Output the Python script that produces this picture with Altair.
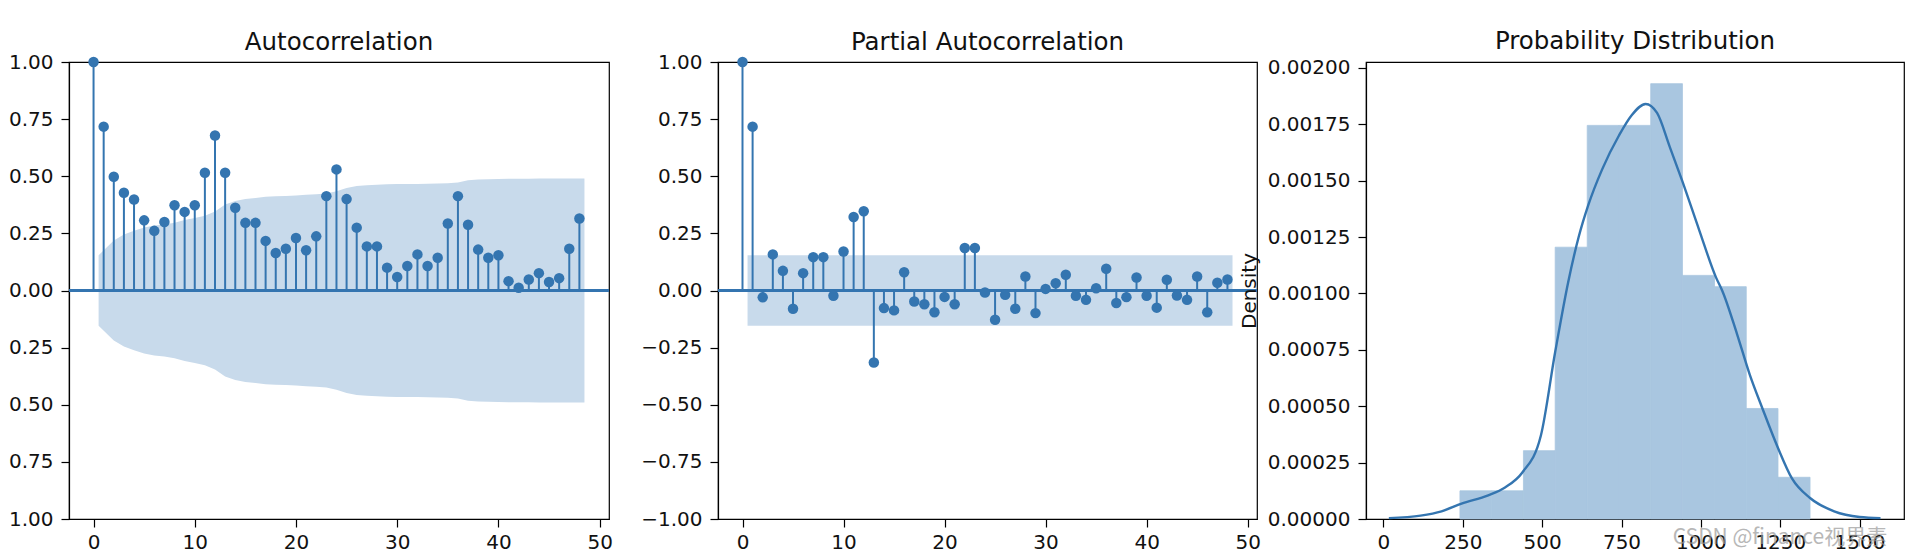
import altair as alt
import pandas as pd

# ---------------- data ----------------
acf_lags = list(range(49))
acf_vals = [1.0, 0.717, 0.498, 0.428, 0.398, 0.307, 0.261, 0.300, 0.373, 0.344,
            0.373, 0.515, 0.678, 0.515, 0.362, 0.296, 0.296, 0.217, 0.164, 0.183,
            0.230, 0.176, 0.237, 0.413, 0.530, 0.400, 0.275, 0.193, 0.193, 0.100,
            0.059, 0.107, 0.158, 0.107, 0.143, 0.293, 0.413, 0.288, 0.179, 0.143,
            0.154, 0.041, 0.012, 0.048, 0.076, 0.037, 0.054, 0.183, 0.315]

# confidence band half-width (lags 1..48); first/last points sit at 0.5 and 48.5
acf_band_x = [0.5] + list(range(2, 48)) + [48.5]
acf_band = [0.154, 0.219, 0.245, 0.262, 0.276, 0.284, 0.289, 0.297, 0.308, 0.317,
            0.327, 0.346, 0.376, 0.392, 0.400, 0.405, 0.410, 0.413, 0.414, 0.416,
            0.419, 0.421, 0.424, 0.434, 0.449, 0.457, 0.461, 0.463, 0.465, 0.466,
            0.466, 0.466, 0.467, 0.468, 0.469, 0.473, 0.482, 0.486, 0.487, 0.488,
            0.489, 0.489, 0.489, 0.490, 0.490, 0.490, 0.490, 0.490]

pacf_lags = list(range(49))
pacf_vals = [1.0, 0.717, -0.030, 0.158, 0.086, -0.080, 0.076, 0.146, 0.146, -0.023,
             0.171, 0.322, 0.347, -0.315, -0.077, -0.087, 0.080, -0.048, -0.060, -0.095,
             -0.028, -0.060, 0.186, 0.186, -0.009, -0.128, -0.019, -0.080, 0.061, -0.099,
             0.007, 0.032, 0.069, -0.023, -0.041, 0.010, 0.095, -0.055, -0.029, 0.057,
             -0.023, -0.075, 0.047, -0.022, -0.041, 0.061, -0.095, 0.034, 0.048]
pacf_band_x = [0.5, 48.5]
pacf_band = [0.154, 0.154]

hist_edges = [241, 341, 441, 541, 642, 742, 842, 942, 1043, 1143, 1243, 1344]
hist_density = [0.000125, 0.000125, 0.000303, 0.001205, 0.001745, 0.001745,
                0.00193, 0.00108, 0.00103, 0.00049, 0.000185]

kde_x = [17, 117, 183, 246, 330, 383, 437, 496, 541, 582, 615, 645, 689, 742, 782,
         826, 862, 902, 941, 995, 1048, 1068, 1114, 1154, 1194, 1243, 1287, 1344,
         1420, 1500, 1566]
kde_y = [0.000004, 0.000015, 0.000034, 0.000068, 0.000105, 0.000140, 0.000205, 0.00037,
         0.00074, 0.00105, 0.00125, 0.00139, 0.00155, 0.00170, 0.00179, 0.00184,
         0.00180, 0.00165, 0.00150, 0.00128, 0.00107, 0.00101, 0.00082, 0.00064,
         0.00049, 0.000315, 0.00018, 0.000093, 0.000034, 0.000009, 0.000004]

lag_ticks = [0, 10, 20, 30, 40, 50]
corr_ticks = [-1.0, -0.75, -0.5, -0.25, 0.0, 0.25, 0.5, 0.75, 1.0]
dist_x_ticks = [0, 250, 500, 750, 1000, 1250, 1500]
dist_y_ticks = [0, 0.00025, 0.0005, 0.00075, 0.001, 0.00125, 0.0015, 0.00175, 0.002]

# ---------------- styling ----------------
BLUE = "#3475b0"
BAND = "#c8daeb"
HIST = "#a9c6e0"
FONT = "DejaVu Sans"

def stem_panel(lags, vals, band_x, band_h, title, width):
    df = pd.DataFrame({"lag": lags, "v": vals})
    bdf = pd.DataFrame({"lag": band_x, "lo": [-h for h in band_h], "hi": band_h})
    xs = alt.Scale(domain=[-2.425, 50.925], nice=False, zero=False)
    ys = alt.Scale(domain=[-1, 1], nice=False)
    xax = alt.Axis(values=lag_ticks, format="d", title=None)
    yax = alt.Axis(values=corr_ticks, format=".2f", title=None)
    band = alt.Chart(bdf).mark_area(color=BAND, opacity=1).encode(
        x=alt.X("lag:Q", scale=xs, axis=xax),
        y=alt.Y("lo:Q", scale=ys, axis=yax),
        y2="hi:Q",
    )
    zero = alt.Chart(df).mark_rule(color=BLUE, strokeWidth=2).encode(y=alt.datum(0))
    stems = alt.Chart(df).mark_rule(color=BLUE, strokeWidth=2).encode(
        x=alt.X("lag:Q", scale=xs), y=alt.Y("v:Q", scale=ys), y2=alt.datum(0)
    )
    pts = alt.Chart(df).mark_circle(color=BLUE, size=110, opacity=1).encode(
        x=alt.X("lag:Q", scale=xs), y=alt.Y("v:Q", scale=ys)
    )
    return alt.layer(band, zero, stems, pts).properties(
        width=width, height=457, title=alt.TitleParams(title, offset=-3)
    )

acf = stem_panel(acf_lags, acf_vals, acf_band_x, acf_band, "Autocorrelation", 540)
pacf = stem_panel(pacf_lags, pacf_vals, pacf_band_x, pacf_band, "Partial Autocorrelation", 539)

hdf = pd.DataFrame({"x0": hist_edges[:-1], "x1": hist_edges[1:], "d": hist_density})
kdf = pd.DataFrame({"x": kde_x, "y": kde_y})
dxs = alt.Scale(domain=[-55, 1640], nice=False, zero=False)
dys = alt.Scale(domain=[0, 0.002026], nice=False)
bars = alt.Chart(hdf).mark_rect(color=HIST, opacity=1, stroke=HIST, strokeWidth=0.8).encode(
    x=alt.X("x0:Q", scale=dxs, axis=alt.Axis(values=dist_x_ticks, format="d", title=None)),
    x2="x1:Q",
    y=alt.Y("d:Q", scale=dys,
            axis=alt.Axis(values=dist_y_ticks, format=".5f", title="Density",
                          titleFontSize=20, titleFont=FONT, titleFontWeight="normal",
                          titleColor="#111", titlePadding=8)),
    y2=alt.datum(0),
)
kde = alt.Chart(kdf).mark_line(color=BLUE, strokeWidth=2.4, interpolate="monotone").encode(
    x=alt.X("x:Q", scale=dxs), y=alt.Y("y:Q", scale=dys)
)
wm = alt.Chart(pd.DataFrame({"t": ["CSDN @finance视界素"]})).mark_text(
    font="Noto Sans CJK SC", fontSize=21, color="#9a9a9a", opacity=0.7, align="center",
    baseline="middle"
).encode(text="t:N", x=alt.value(414), y=alt.value(476))
dist = alt.layer(bars, kde, wm).properties(
    width=538, height=457, title=alt.TitleParams("Probability Distribution", offset=3)
)

chart = alt.hconcat(acf, pacf, dist, spacing=109, bounds="flush").properties(
    padding={"left": -17, "top": 20, "right": 0, "bottom": 0}
).configure_view(stroke="black", strokeWidth=1.2).configure_axis(
    grid=False, labelFont=FONT, labelFontSize=20, labelColor="#111",
    tickColor="black", tickSize=8, tickWidth=1.2, domainColor="black", domainWidth=1.2,
    labelFlush=False, labelOverlap=False
).configure_axisX(labelPadding=5).configure_axisY(labelPadding=8).configure_title(
    font=FONT, fontSize=24.5, fontWeight="normal", color="#111",
    anchor="middle", frame="group"
)

chart.save("out.html", embed_options={"renderer": "svg", "actions": False})
